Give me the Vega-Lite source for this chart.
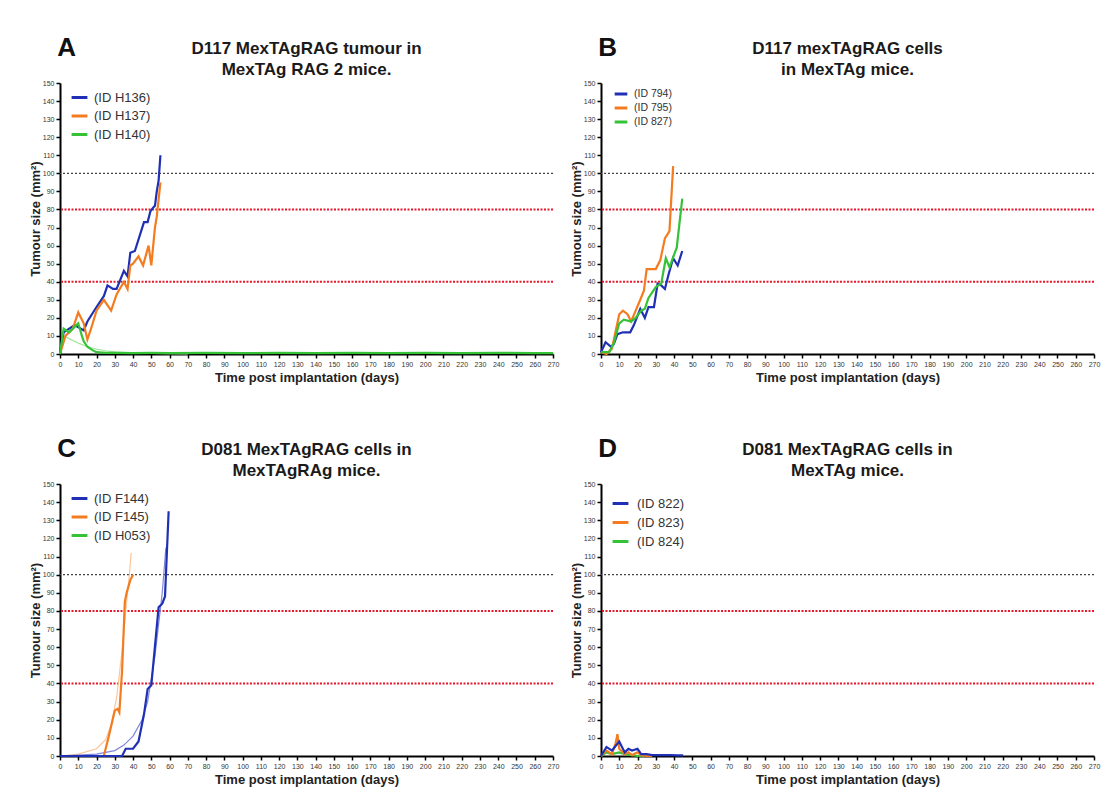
{
  "$schema": "https://vega.github.io/schema/vega-lite/v6.json",
  "background": "white",
  "padding": {"left": 29, "top": 35, "right": 5, "bottom": 5},
  "spacing": {"row": 52, "column": 11},
  "columns": 2,
  "resolve": {"scale": {"color": "independent"}, "legend": {"color": "independent"}},
  "config": {
    "view": {"stroke": null},
    "axis": {"domainColor": "#000", "domainWidth": 2, "tickColor": "#000", "tickWidth": 1.5, "tickSize": 4, "labelFontSize": 7, "labelColor": "#333", "labelFont": "Liberation Sans", "titleFont": "Liberation Sans", "titleFontSize": 13, "titleFontWeight": "bold", "titleColor": "#222", "grid": false, "labelPadding": 2, "labelOverlap": false, "labelFlush": false},
    "axisX": {"labelAngle": 0, "titlePadding": 4},
    "axisY": {"titlePadding": 0},
    "title": {"font": "Liberation Sans", "fontWeight": "bold", "color": "#1a1a1a"}
  },
  "datasets": {
    "thr": [{"level": 100, "kind": "limit"}, {"level": 80, "kind": "warn"}, {"level": 40, "kind": "warn"}],
    "A": [
      {"id": "(ID H136)", "day": 0, "size": 1}, {"id": "(ID H136)", "day": 2, "size": 12}, {"id": "(ID H136)", "day": 8, "size": 16}, {"id": "(ID H136)", "day": 13, "size": 13}, {"id": "(ID H136)", "day": 15, "size": 18}, {"id": "(ID H136)", "day": 20, "size": 26}, {"id": "(ID H136)", "day": 24, "size": 32}, {"id": "(ID H136)", "day": 26, "size": 38}, {"id": "(ID H136)", "day": 29, "size": 36}, {"id": "(ID H136)", "day": 31, "size": 36}, {"id": "(ID H136)", "day": 35, "size": 46}, {"id": "(ID H136)", "day": 37, "size": 43}, {"id": "(ID H136)", "day": 38.5, "size": 56}, {"id": "(ID H136)", "day": 41, "size": 57}, {"id": "(ID H136)", "day": 46, "size": 73}, {"id": "(ID H136)", "day": 48, "size": 73}, {"id": "(ID H136)", "day": 49.5, "size": 79}, {"id": "(ID H136)", "day": 51, "size": 81}, {"id": "(ID H136)", "day": 52, "size": 82}, {"id": "(ID H136)", "day": 53, "size": 90}, {"id": "(ID H136)", "day": 54, "size": 96}, {"id": "(ID H136)", "day": 55, "size": 110},
      {"id": "(ID H137)", "day": 0, "size": 0}, {"id": "(ID H137)", "day": 3, "size": 10}, {"id": "(ID H137)", "day": 7, "size": 14}, {"id": "(ID H137)", "day": 10, "size": 23}, {"id": "(ID H137)", "day": 13, "size": 17}, {"id": "(ID H137)", "day": 15, "size": 8}, {"id": "(ID H137)", "day": 17, "size": 14}, {"id": "(ID H137)", "day": 20, "size": 24}, {"id": "(ID H137)", "day": 24, "size": 30}, {"id": "(ID H137)", "day": 28, "size": 24}, {"id": "(ID H137)", "day": 31, "size": 33}, {"id": "(ID H137)", "day": 35, "size": 40}, {"id": "(ID H137)", "day": 37, "size": 36}, {"id": "(ID H137)", "day": 38.5, "size": 49}, {"id": "(ID H137)", "day": 40, "size": 50}, {"id": "(ID H137)", "day": 43, "size": 54}, {"id": "(ID H137)", "day": 45.5, "size": 49}, {"id": "(ID H137)", "day": 48.5, "size": 60}, {"id": "(ID H137)", "day": 50, "size": 49}, {"id": "(ID H137)", "day": 52, "size": 70}, {"id": "(ID H137)", "day": 53, "size": 76}, {"id": "(ID H137)", "day": 55, "size": 95},
      {"id": "(ID H140)", "day": 0, "size": 0}, {"id": "(ID H140)", "day": 2, "size": 14}, {"id": "(ID H140)", "day": 5, "size": 12}, {"id": "(ID H140)", "day": 8, "size": 15}, {"id": "(ID H140)", "day": 10, "size": 17}, {"id": "(ID H140)", "day": 12, "size": 10}, {"id": "(ID H140)", "day": 13, "size": 7}, {"id": "(ID H140)", "day": 15, "size": 4}, {"id": "(ID H140)", "day": 18, "size": 2}, {"id": "(ID H140)", "day": 20, "size": 1}, {"id": "(ID H140)", "day": 25, "size": 0.6}, {"id": "(ID H140)", "day": 30, "size": 0.6}, {"id": "(ID H140)", "day": 40, "size": 0.5}, {"id": "(ID H140)", "day": 50, "size": 0.6}, {"id": "(ID H140)", "day": 60, "size": 0.5}, {"id": "(ID H140)", "day": 80, "size": 0.6}, {"id": "(ID H140)", "day": 100, "size": 0.5}, {"id": "(ID H140)", "day": 120, "size": 0.6}, {"id": "(ID H140)", "day": 140, "size": 0.5}, {"id": "(ID H140)", "day": 160, "size": 0.6}, {"id": "(ID H140)", "day": 180, "size": 0.5}, {"id": "(ID H140)", "day": 200, "size": 0.6}, {"id": "(ID H140)", "day": 220, "size": 0.5}, {"id": "(ID H140)", "day": 240, "size": 0.6}, {"id": "(ID H140)", "day": 260, "size": 0.5}, {"id": "(ID H140)", "day": 270, "size": 0.5}
    ],
    "Afit": [
      {"fit": "H140", "day": 2, "size": 10}, {"fit": "H140", "day": 5, "size": 8.5}, {"fit": "H140", "day": 10, "size": 6}, {"fit": "H140", "day": 15, "size": 4}, {"fit": "H140", "day": 20, "size": 2.7}, {"fit": "H140", "day": 25, "size": 1.8}, {"fit": "H140", "day": 30, "size": 1.2}, {"fit": "H140", "day": 40, "size": 0.6}, {"fit": "H140", "day": 50, "size": 0.3}, {"fit": "H140", "day": 70, "size": 0.1}
    ],
    "B": [
      {"id": "(ID 794)", "day": 0, "size": 1}, {"id": "(ID 794)", "day": 2.5, "size": 6.5}, {"id": "(ID 794)", "day": 5.5, "size": 4}, {"id": "(ID 794)", "day": 7, "size": 5.5}, {"id": "(ID 794)", "day": 9, "size": 11}, {"id": "(ID 794)", "day": 12, "size": 12}, {"id": "(ID 794)", "day": 16, "size": 12}, {"id": "(ID 794)", "day": 18, "size": 16}, {"id": "(ID 794)", "day": 21.5, "size": 25}, {"id": "(ID 794)", "day": 24, "size": 20}, {"id": "(ID 794)", "day": 26, "size": 26}, {"id": "(ID 794)", "day": 29, "size": 26}, {"id": "(ID 794)", "day": 31, "size": 39}, {"id": "(ID 794)", "day": 33, "size": 38}, {"id": "(ID 794)", "day": 35, "size": 36}, {"id": "(ID 794)", "day": 37, "size": 44}, {"id": "(ID 794)", "day": 39.5, "size": 53}, {"id": "(ID 794)", "day": 42, "size": 49}, {"id": "(ID 794)", "day": 44.5, "size": 57},
      {"id": "(ID 795)", "day": 0, "size": 1}, {"id": "(ID 795)", "day": 3, "size": 0}, {"id": "(ID 795)", "day": 6, "size": 3}, {"id": "(ID 795)", "day": 10, "size": 22}, {"id": "(ID 795)", "day": 12, "size": 24}, {"id": "(ID 795)", "day": 14.5, "size": 22}, {"id": "(ID 795)", "day": 16.5, "size": 18}, {"id": "(ID 795)", "day": 19, "size": 24}, {"id": "(ID 795)", "day": 21.5, "size": 30}, {"id": "(ID 795)", "day": 23.5, "size": 35}, {"id": "(ID 795)", "day": 25, "size": 47}, {"id": "(ID 795)", "day": 28, "size": 47}, {"id": "(ID 795)", "day": 30, "size": 47}, {"id": "(ID 795)", "day": 32.5, "size": 52}, {"id": "(ID 795)", "day": 35, "size": 64}, {"id": "(ID 795)", "day": 37.5, "size": 68}, {"id": "(ID 795)", "day": 39.5, "size": 104},
      {"id": "(ID 827)", "day": 0, "size": 1}, {"id": "(ID 827)", "day": 4.5, "size": 1}, {"id": "(ID 827)", "day": 7, "size": 6}, {"id": "(ID 827)", "day": 10, "size": 17}, {"id": "(ID 827)", "day": 12.5, "size": 19}, {"id": "(ID 827)", "day": 16.5, "size": 18}, {"id": "(ID 827)", "day": 19, "size": 20}, {"id": "(ID 827)", "day": 22, "size": 24}, {"id": "(ID 827)", "day": 24, "size": 25}, {"id": "(ID 827)", "day": 26, "size": 31}, {"id": "(ID 827)", "day": 30, "size": 37}, {"id": "(ID 827)", "day": 33, "size": 39}, {"id": "(ID 827)", "day": 35.5, "size": 53}, {"id": "(ID 827)", "day": 37.5, "size": 48}, {"id": "(ID 827)", "day": 41.5, "size": 59}, {"id": "(ID 827)", "day": 44.5, "size": 86}
    ],
    "C": [
      {"id": "(ID H053)", "day": 0, "size": 0}, {"id": "(ID H053)", "day": 10, "size": 0}, {"id": "(ID H053)", "day": 20, "size": 0},
      {"id": "(ID F145)", "day": 0, "size": 0}, {"id": "(ID F145)", "day": 5, "size": 0}, {"id": "(ID F145)", "day": 10, "size": 0}, {"id": "(ID F145)", "day": 14, "size": 0}, {"id": "(ID F145)", "day": 17, "size": 0}, {"id": "(ID F145)", "day": 21, "size": 0}, {"id": "(ID F145)", "day": 24, "size": 0}, {"id": "(ID F145)", "day": 26.5, "size": 10}, {"id": "(ID F145)", "day": 30, "size": 25}, {"id": "(ID F145)", "day": 31.5, "size": 26}, {"id": "(ID F145)", "day": 32.5, "size": 24}, {"id": "(ID F145)", "day": 34, "size": 47}, {"id": "(ID F145)", "day": 35.5, "size": 85}, {"id": "(ID F145)", "day": 36.5, "size": 90}, {"id": "(ID F145)", "day": 38.5, "size": 97}, {"id": "(ID F145)", "day": 40, "size": 100},
      {"id": "(ID F144)", "day": 0, "size": 0}, {"id": "(ID F144)", "day": 5, "size": 0}, {"id": "(ID F144)", "day": 10, "size": 0}, {"id": "(ID F144)", "day": 14, "size": 0}, {"id": "(ID F144)", "day": 17, "size": 0}, {"id": "(ID F144)", "day": 21, "size": 0}, {"id": "(ID F144)", "day": 24, "size": 0}, {"id": "(ID F144)", "day": 28, "size": 0}, {"id": "(ID F144)", "day": 31, "size": 0}, {"id": "(ID F144)", "day": 34, "size": 0}, {"id": "(ID F144)", "day": 36, "size": 4}, {"id": "(ID F144)", "day": 40, "size": 4}, {"id": "(ID F144)", "day": 43, "size": 8}, {"id": "(ID F144)", "day": 46, "size": 23}, {"id": "(ID F144)", "day": 48, "size": 37}, {"id": "(ID F144)", "day": 50, "size": 39}, {"id": "(ID F144)", "day": 54, "size": 82}, {"id": "(ID F144)", "day": 56, "size": 84}, {"id": "(ID F144)", "day": 57.5, "size": 88}, {"id": "(ID F144)", "day": 59.5, "size": 135}
    ],
    "Cfit": [
      {"fit": "F145", "day": 0, "size": 0}, {"fit": "F145", "day": 10, "size": 1}, {"fit": "F145", "day": 20, "size": 4}, {"fit": "F145", "day": 25, "size": 9}, {"fit": "F145", "day": 28, "size": 17}, {"fit": "F145", "day": 31, "size": 32}, {"fit": "F145", "day": 34, "size": 58}, {"fit": "F145", "day": 36, "size": 80}, {"fit": "F145", "day": 38, "size": 100}, {"fit": "F145", "day": 39, "size": 112},
      {"fit": "F144", "day": 0, "size": 0}, {"fit": "F144", "day": 20, "size": 1}, {"fit": "F144", "day": 30, "size": 3}, {"fit": "F144", "day": 35, "size": 6}, {"fit": "F144", "day": 40, "size": 11}, {"fit": "F144", "day": 45, "size": 20}, {"fit": "F144", "day": 48, "size": 30}, {"fit": "F144", "day": 52, "size": 55}, {"fit": "F144", "day": 56, "size": 90}, {"fit": "F144", "day": 58, "size": 115}
    ],
    "D": [
      {"id": "(ID 824)", "day": 0, "size": 0}, {"id": "(ID 824)", "day": 3, "size": 2}, {"id": "(ID 824)", "day": 6, "size": 1}, {"id": "(ID 824)", "day": 10, "size": 2}, {"id": "(ID 824)", "day": 13, "size": 1}, {"id": "(ID 824)", "day": 17, "size": 0.5}, {"id": "(ID 824)", "day": 20, "size": 0}, {"id": "(ID 824)", "day": 24, "size": 0},
      {"id": "(ID 823)", "day": 0, "size": 0}, {"id": "(ID 823)", "day": 3, "size": 3}, {"id": "(ID 823)", "day": 6, "size": 1}, {"id": "(ID 823)", "day": 8, "size": 7}, {"id": "(ID 823)", "day": 9, "size": 12}, {"id": "(ID 823)", "day": 10, "size": 4}, {"id": "(ID 823)", "day": 13, "size": 1}, {"id": "(ID 823)", "day": 15, "size": 2}, {"id": "(ID 823)", "day": 17, "size": 0.5}, {"id": "(ID 823)", "day": 20, "size": 2}, {"id": "(ID 823)", "day": 22, "size": 0.5}, {"id": "(ID 823)", "day": 25, "size": 0}, {"id": "(ID 823)", "day": 28, "size": 0},
      {"id": "(ID 822)", "day": 0, "size": 0}, {"id": "(ID 822)", "day": 3, "size": 5}, {"id": "(ID 822)", "day": 6, "size": 3}, {"id": "(ID 822)", "day": 10, "size": 8}, {"id": "(ID 822)", "day": 13, "size": 2}, {"id": "(ID 822)", "day": 15, "size": 4}, {"id": "(ID 822)", "day": 17, "size": 3}, {"id": "(ID 822)", "day": 20, "size": 4}, {"id": "(ID 822)", "day": 22, "size": 1}, {"id": "(ID 822)", "day": 25, "size": 1}, {"id": "(ID 822)", "day": 28, "size": 0.5}, {"id": "(ID 822)", "day": 31, "size": 0.5}, {"id": "(ID 822)", "day": 35, "size": 0.5}, {"id": "(ID 822)", "day": 38, "size": 0.5}, {"id": "(ID 822)", "day": 42, "size": 0.3}, {"id": "(ID 822)", "day": 45, "size": 0.3}
    ]
  },
  "concat": [
    {
      "title": {"text": "A", "anchor": "start", "fontSize": 26, "offset": -21, "dx": 28, "color": "#111"},
      "vconcat": [{
        "width": 493, "height": 271,
        "title": {"text": ["D117 MexTAgRAG tumour in", "MexTAg RAG 2 mice."], "anchor": "middle", "frame": "group", "fontSize": 17, "lineHeight": 21, "offset": 0},
        "layer": [
          {"data": {"name": "thr"}, "transform": [{"filter": "datum.kind === 'limit'"}], "mark": {"type": "rule", "color": "#444", "strokeWidth": 1.3, "strokeDash": [2, 2]}, "encoding": {"y": {"field": "level", "type": "quantitative", "scale": {"domain": [0, 150], "nice": false}, "axis": {"title": "Tumour size (mm²)", "values": [0,10,20,30,40,50,60,70,80,90,100,110,120,130,140,150]}}}},
          {"data": {"name": "thr"}, "transform": [{"filter": "datum.kind === 'warn'"}], "mark": {"type": "rule", "color": "#e8182c", "strokeWidth": 2, "strokeDash": [2, 1.5]}, "encoding": {"y": {"field": "level", "type": "quantitative", "scale": {"domain": [0, 150], "nice": false}, "axis": {"title": "Tumour size (mm²)", "values": [0,10,20,30,40,50,60,70,80,90,100,110,120,130,140,150]}}}},
          {"data": {"name": "Afit"}, "mark": {"type": "line", "color": "#a8e6a0", "strokeWidth": 1.2}, "encoding": {
            "x": {"field": "day", "type": "quantitative", "scale": {"domain": [0, 270], "nice": false}, "axis": {"title": "Time post implantation (days)", "values": [0,10,20,30,40,50,60,70,80,90,100,110,120,130,140,150,160,170,180,190,200,210,220,230,240,250,260,270]}},
            "y": {"field": "size", "type": "quantitative", "scale": {"domain": [0, 150], "nice": false}, "axis": {"title": "Tumour size (mm²)", "values": [0,10,20,30,40,50,60,70,80,90,100,110,120,130,140,150]}}}},
          {"data": {"name": "A"}, "mark": {"type": "line", "strokeWidth": 2.2},
            "encoding": {
              "x": {"field": "day", "type": "quantitative", "scale": {"domain": [0, 270], "nice": false}, "axis": {"title": "Time post implantation (days)", "values": [0,10,20,30,40,50,60,70,80,90,100,110,120,130,140,150,160,170,180,190,200,210,220,230,240,250,260,270]}},
              "y": {"field": "size", "type": "quantitative", "scale": {"domain": [0, 150], "nice": false}, "axis": {"title": "Tumour size (mm²)", "values": [0,10,20,30,40,50,60,70,80,90,100,110,120,130,140,150]}},
              "color": {"field": "id", "type": "nominal", "sort": ["(ID H136)", "(ID H137)", "(ID H140)"], "scale": {"domain": ["(ID H136)", "(ID H137)", "(ID H140)"], "range": ["#1f30b4", "#f27c1f", "#35c236"]},
                "legend": {"title": null, "orient": "top-left", "offset": 4, "symbolOffset": 5, "symbolType": "stroke", "symbolStrokeWidth": 3, "symbolSize": 250, "labelFontSize": 13, "labelFont": "Liberation Sans", "labelColor": "#333", "rowPadding": 1.5, "labelOffset": 5, "padding": 1}}
            }}
        ]
      }]
    },
    {
      "title": {"text": "B", "anchor": "start", "fontSize": 26, "offset": -21, "dx": 28, "color": "#111"},
      "vconcat": [{
        "width": 493, "height": 271,
        "title": {"text": ["D117 mexTAgRAG cells", "in MexTAg mice."], "anchor": "middle", "frame": "group", "fontSize": 17, "lineHeight": 21, "offset": 0},
        "layer": [
          {"data": {"name": "thr"}, "transform": [{"filter": "datum.kind === 'limit'"}], "mark": {"type": "rule", "color": "#444", "strokeWidth": 1.3, "strokeDash": [2, 2]}, "encoding": {"y": {"field": "level", "type": "quantitative", "scale": {"domain": [0, 150], "nice": false}, "axis": {"title": "Tumour size (mm²)", "values": [0,10,20,30,40,50,60,70,80,90,100,110,120,130,140,150]}}}},
          {"data": {"name": "thr"}, "transform": [{"filter": "datum.kind === 'warn'"}], "mark": {"type": "rule", "color": "#e8182c", "strokeWidth": 2, "strokeDash": [2, 1.5]}, "encoding": {"y": {"field": "level", "type": "quantitative", "scale": {"domain": [0, 150], "nice": false}, "axis": {"title": "Tumour size (mm²)", "values": [0,10,20,30,40,50,60,70,80,90,100,110,120,130,140,150]}}}},
          {"data": {"name": "B"}, "mark": {"type": "line", "strokeWidth": 2.2},
            "encoding": {
              "x": {"field": "day", "type": "quantitative", "scale": {"domain": [0, 270], "nice": false}, "axis": {"title": "Time post implantation (days)", "values": [0,10,20,30,40,50,60,70,80,90,100,110,120,130,140,150,160,170,180,190,200,210,220,230,240,250,260,270]}},
              "y": {"field": "size", "type": "quantitative", "scale": {"domain": [0, 150], "nice": false}, "axis": {"title": "Tumour size (mm²)", "values": [0,10,20,30,40,50,60,70,80,90,100,110,120,130,140,150]}},
              "color": {"field": "id", "type": "nominal", "sort": ["(ID 794)", "(ID 795)", "(ID 827)"], "scale": {"domain": ["(ID 794)", "(ID 795)", "(ID 827)"], "range": ["#1f30b4", "#f27c1f", "#35c236"]},
                "legend": {"title": null, "orient": "top-left", "offset": 2, "symbolOffset": 9, "symbolType": "stroke", "symbolStrokeWidth": 3, "symbolSize": 160, "labelFontSize": 10.5, "labelFont": "Liberation Sans", "labelColor": "#333", "rowPadding": 0, "labelOffset": 5, "padding": 1}}
            }}
        ]
      }]
    },
    {
      "title": {"text": "C", "anchor": "start", "fontSize": 26, "offset": -21, "dx": 28, "color": "#111"},
      "vconcat": [{
        "width": 493, "height": 272,
        "title": {"text": ["D081 MexTAgRAG cells in", "MexTAgRAg mice."], "anchor": "middle", "frame": "group", "fontSize": 17, "lineHeight": 21, "offset": 0},
        "layer": [
          {"data": {"name": "thr"}, "transform": [{"filter": "datum.kind === 'limit'"}], "mark": {"type": "rule", "color": "#444", "strokeWidth": 1.3, "strokeDash": [2, 2]}, "encoding": {"y": {"field": "level", "type": "quantitative", "scale": {"domain": [0, 150], "nice": false}, "axis": {"title": "Tumour size (mm²)", "values": [0,10,20,30,40,50,60,70,80,90,100,110,120,130,140,150]}}}},
          {"data": {"name": "thr"}, "transform": [{"filter": "datum.kind === 'warn'"}], "mark": {"type": "rule", "color": "#e8182c", "strokeWidth": 2, "strokeDash": [2, 1.5]}, "encoding": {"y": {"field": "level", "type": "quantitative", "scale": {"domain": [0, 150], "nice": false}, "axis": {"title": "Tumour size (mm²)", "values": [0,10,20,30,40,50,60,70,80,90,100,110,120,130,140,150]}}}},
          {"data": {"name": "Cfit"}, "transform": [{"filter": "datum.fit === 'F145'"}], "mark": {"type": "line", "color": "#f9c79a", "strokeWidth": 1.2}, "encoding": {
            "x": {"field": "day", "type": "quantitative", "scale": {"domain": [0, 270], "nice": false}, "axis": {"title": "Time post implantation (days)", "values": [0,10,20,30,40,50,60,70,80,90,100,110,120,130,140,150,160,170,180,190,200,210,220,230,240,250,260,270]}},
            "y": {"field": "size", "type": "quantitative", "scale": {"domain": [0, 150], "nice": false}, "axis": {"title": "Tumour size (mm²)", "values": [0,10,20,30,40,50,60,70,80,90,100,110,120,130,140,150]}}}},
          {"data": {"name": "Cfit"}, "transform": [{"filter": "datum.fit === 'F144'"}], "mark": {"type": "line", "color": "#7f88dc", "strokeWidth": 1.2}, "encoding": {
            "x": {"field": "day", "type": "quantitative", "scale": {"domain": [0, 270], "nice": false}, "axis": {"title": "Time post implantation (days)", "values": [0,10,20,30,40,50,60,70,80,90,100,110,120,130,140,150,160,170,180,190,200,210,220,230,240,250,260,270]}},
            "y": {"field": "size", "type": "quantitative", "scale": {"domain": [0, 150], "nice": false}, "axis": {"title": "Tumour size (mm²)", "values": [0,10,20,30,40,50,60,70,80,90,100,110,120,130,140,150]}}}},
          {"data": {"name": "C"}, "mark": {"type": "line", "strokeWidth": 2.2},
            "encoding": {
              "x": {"field": "day", "type": "quantitative", "scale": {"domain": [0, 270], "nice": false}, "axis": {"title": "Time post implantation (days)", "values": [0,10,20,30,40,50,60,70,80,90,100,110,120,130,140,150,160,170,180,190,200,210,220,230,240,250,260,270]}},
              "y": {"field": "size", "type": "quantitative", "scale": {"domain": [0, 150], "nice": false}, "axis": {"title": "Tumour size (mm²)", "values": [0,10,20,30,40,50,60,70,80,90,100,110,120,130,140,150]}},
              "color": {"field": "id", "type": "nominal", "sort": ["(ID F144)", "(ID F145)", "(ID H053)"], "scale": {"domain": ["(ID F144)", "(ID F145)", "(ID H053)"], "range": ["#1f30b4", "#f27c1f", "#35c236"]},
                "legend": {"title": null, "orient": "top-left", "offset": 4, "symbolOffset": 5, "symbolType": "stroke", "symbolStrokeWidth": 3, "symbolSize": 250, "labelFontSize": 13, "labelFont": "Liberation Sans", "labelColor": "#333", "rowPadding": 1.5, "labelOffset": 5, "padding": 1}}
            }}
        ]
      }]
    },
    {
      "title": {"text": "D", "anchor": "start", "fontSize": 26, "offset": -21, "dx": 28, "color": "#111"},
      "vconcat": [{
        "width": 493, "height": 272,
        "title": {"text": ["D081 MexTAgRAG cells in", "MexTAg mice."], "anchor": "middle", "frame": "group", "fontSize": 17, "lineHeight": 21, "offset": 0},
        "layer": [
          {"data": {"name": "thr"}, "transform": [{"filter": "datum.kind === 'limit'"}], "mark": {"type": "rule", "color": "#444", "strokeWidth": 1.3, "strokeDash": [2, 2]}, "encoding": {"y": {"field": "level", "type": "quantitative", "scale": {"domain": [0, 150], "nice": false}, "axis": {"title": "Tumour size (mm²)", "values": [0,10,20,30,40,50,60,70,80,90,100,110,120,130,140,150]}}}},
          {"data": {"name": "thr"}, "transform": [{"filter": "datum.kind === 'warn'"}], "mark": {"type": "rule", "color": "#e8182c", "strokeWidth": 2, "strokeDash": [2, 1.5]}, "encoding": {"y": {"field": "level", "type": "quantitative", "scale": {"domain": [0, 150], "nice": false}, "axis": {"title": "Tumour size (mm²)", "values": [0,10,20,30,40,50,60,70,80,90,100,110,120,130,140,150]}}}},
          {"data": {"name": "D"}, "mark": {"type": "line", "strokeWidth": 2.2},
            "encoding": {
              "x": {"field": "day", "type": "quantitative", "scale": {"domain": [0, 270], "nice": false}, "axis": {"title": "Time post implantation (days)", "values": [0,10,20,30,40,50,60,70,80,90,100,110,120,130,140,150,160,170,180,190,200,210,220,230,240,250,260,270]}},
              "y": {"field": "size", "type": "quantitative", "scale": {"domain": [0, 150], "nice": false}, "axis": {"title": "Tumour size (mm²)", "values": [0,10,20,30,40,50,60,70,80,90,100,110,120,130,140,150]}},
              "color": {"field": "id", "type": "nominal", "sort": ["(ID 822)", "(ID 823)", "(ID 824)"], "scale": {"domain": ["(ID 822)", "(ID 823)", "(ID 824)"], "range": ["#1f30b4", "#f27c1f", "#35c236"]},
                "legend": {"title": null, "orient": "top-left", "offset": 9, "symbolOffset": 0, "symbolType": "stroke", "symbolStrokeWidth": 3, "symbolSize": 250, "labelFontSize": 13, "labelFont": "Liberation Sans", "labelColor": "#333", "rowPadding": 2, "labelOffset": 7, "padding": 1}}
            }}
        ]
      }]
    }
  ]
}
